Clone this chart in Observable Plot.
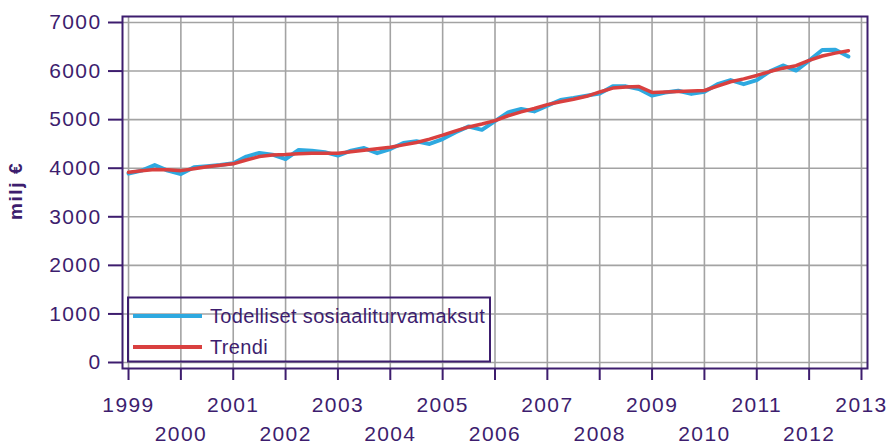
<!DOCTYPE html>
<html>
<head>
<meta charset="utf-8">
<script src="https://cdn.jsdelivr.net/npm/d3@7"></script>
<script src="https://cdn.jsdelivr.net/npm/@observablehq/plot@0.6"></script>
<style>
  html, body { margin: 0; padding: 0; background: #fff; }
  #chart svg text { letter-spacing: 1.4px; }
</style>
</head>
<body>
<div id="chart"></div>
<script>
// Quarterly data, 1999 Q1 – 2012 Q4 (milj €)
const startYear = 1999;
const actual = [
  3890, 3950, 4065, 3950,
  3880, 4020, 4040, 4065,
  4100, 4240, 4315, 4280,
  4190, 4375, 4360, 4330,
  4260, 4360, 4415, 4310,
  4395, 4520, 4555, 4500,
  4600, 4740, 4860, 4790,
  4970, 5150, 5220, 5170,
  5290, 5405, 5445, 5495,
  5540, 5685, 5685, 5630,
  5495, 5560, 5595, 5530,
  5575, 5730, 5815, 5730,
  5815, 5995, 6115, 6010,
  6215, 6435, 6440, 6300
];
const trend = [
  3915, 3950, 3975, 3970,
  3950, 3990, 4030, 4060,
  4090, 4170, 4240, 4270,
  4280, 4300, 4310, 4310,
  4310, 4340, 4370, 4400,
  4430, 4480, 4530, 4600,
  4680, 4770, 4850, 4910,
  4980, 5080, 5160, 5230,
  5310, 5370, 5420, 5480,
  5570, 5650, 5670, 5680,
  5560, 5570, 5580, 5590,
  5600, 5690, 5780, 5840,
  5910, 5990, 6060, 6110,
  6220, 6310, 6370, 6420
];
const yTicks = [0, 1000, 2000, 3000, 4000, 5000, 6000, 7000];
const oddYears = [1999, 2001, 2003, 2005, 2007, 2009, 2011, 2013];
const evenYears = [2000, 2002, 2004, 2006, 2008, 2010, 2012];
const seriesNames = ["Todelliset sosiaaliturvamaksut", "Trendi"];
const yLabel = "milj €";

const purple = "#3d1d6e";
const blue = "#2ea9e0";
const red = "#d9403f";
const gridColor = "#a3a3a3";

const rows = actual.map((v, i) => ({t: startYear + i / 4, actual: v, trend: trend[i]}));
const allYears = [...oddYears, ...evenYears].sort((a, b) => a - b);

const chart = Plot.plot({
  width: 888,
  height: 448,
  marginLeft: 122,
  marginRight: 21,
  marginTop: 16,
  marginBottom: 80,
  x: {domain: [1998.885, 2013.115]},
  y: {domain: [-123.5, 7123.5]},
  style: {
    fontFamily: "'Liberation Sans', Arial, sans-serif",
    fontSize: "21px",
    color: purple,
    background: "#fff",
    overflow: "visible"
  },
  marks: [
    Plot.gridX(allYears, {stroke: gridColor, strokeOpacity: 1, strokeWidth: 1.6}),
    Plot.gridY(yTicks, {stroke: gridColor, strokeOpacity: 1, strokeWidth: 1.6}),
    Plot.line(rows, {x: "t", y: "actual", stroke: blue, strokeWidth: 4, strokeLinejoin: "round"}),
    Plot.line(rows, {x: "t", y: "trend", stroke: red, strokeWidth: 3.5, strokeLinejoin: "round"}),
    Plot.frame({stroke: purple, strokeWidth: 2}),
    Plot.axisY(yTicks, {tickSize: 14, tickPadding: 7, tickFormat: "d", label: null, strokeWidth: 2}),
    Plot.axisX(oddYears, {tickSize: 12, tickPadding: 17, tickFormat: "d", label: null, strokeWidth: 2}),
    Plot.axisX(evenYears, {tickSize: 12, tickPadding: 46, tickFormat: "d", label: null, strokeWidth: 2})
  ]
});

document.getElementById("chart").appendChild(chart);

// Y axis title and in-plot legend
const svg = d3.select(chart);
svg.append("text")
  .attr("transform", "translate(22,191) rotate(-90)")
  .attr("text-anchor", "middle")
  .attr("fill", purple)
  .style("font-size", "19px")
  .style("font-weight", "bold")
  .style("letter-spacing", "1.6px")
  .text(yLabel);

const lg = svg.append("g");
lg.append("rect")
  .attr("x", 128).attr("y", 297.5)
  .attr("width", 362).attr("height", 64)
  .attr("fill", "none")
  .attr("stroke", purple)
  .attr("stroke-width", 2);
const lcolors = [blue, red];
seriesNames.forEach((name, i) => {
  const cy = 316 + i * 31;
  lg.append("line")
    .attr("x1", 133).attr("x2", 202)
    .attr("y1", cy).attr("y2", cy)
    .attr("stroke", lcolors[i])
    .attr("stroke-width", 4);
  lg.append("text")
    .attr("x", 210).attr("y", cy + 7)
    .attr("text-anchor", "start")
    .attr("fill", purple)
    .style("font-size", "20px")
    .style("letter-spacing", "0.35px")
    .text(name);
});
</script>
</body>
</html>
